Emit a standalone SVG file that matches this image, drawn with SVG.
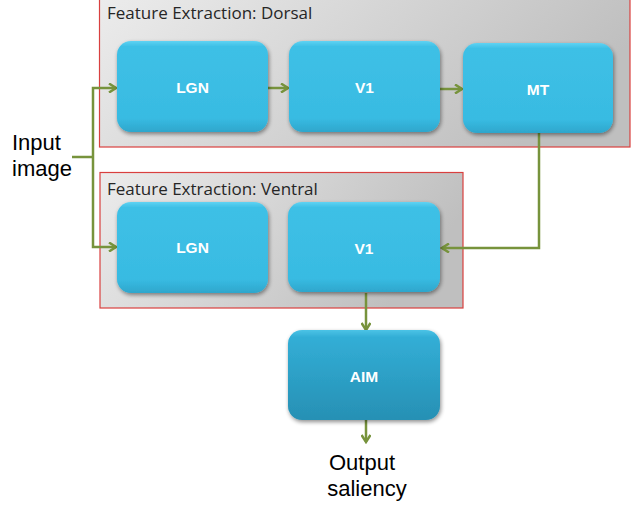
<svg xmlns="http://www.w3.org/2000/svg" width="641" height="505" viewBox="0 0 641 505">
<defs>
<linearGradient id="grp" x1="0" y1="0" x2="1" y2="0.3">
<stop offset="0" stop-color="#ececec"/><stop offset="1" stop-color="#bfbfbf"/>
</linearGradient>
<linearGradient id="blue" x1="0" y1="0" x2="0" y2="1">
<stop offset="0" stop-color="#5fd3f3"/><stop offset="0.06" stop-color="#3ec0e6"/><stop offset="0.85" stop-color="#38bbe2"/><stop offset="1" stop-color="#2ea6cc"/>
</linearGradient>
<linearGradient id="dark" x1="0" y1="0" x2="0" y2="1">
<stop offset="0" stop-color="#4cc3e6"/><stop offset="0.08" stop-color="#32aed6"/><stop offset="1" stop-color="#2790b4"/>
</linearGradient>
<filter id="sh" x="-10%" y="-10%" width="120%" height="130%">
<feGaussianBlur in="SourceAlpha" stdDeviation="2"/>
<feOffset dx="1" dy="2"/>
<feComponentTransfer><feFuncA type="linear" slope="0.45"/></feComponentTransfer>
<feMerge><feMergeNode/><feMergeNode in="SourceGraphic"/></feMerge>
</filter>
<marker id="ah" markerWidth="10" markerHeight="10" refX="8" refY="5" orient="auto" markerUnits="userSpaceOnUse">
<path d="M1,0.5 L8,5 L1,9.5" fill="none" stroke="#77933c" stroke-width="2.5"/>
</marker>
</defs>
<style>
.grp{fill:url(#grp);stroke:#d9403f;stroke-width:1.2}
.gt{font-family:"Open Sans","Liberation Sans",sans-serif;font-size:17px;fill:#262626}
.node rect{filter:url(#sh)}
.nb{fill:url(#blue)}
.nd{fill:url(#dark)}
.nt{font-family:"Liberation Sans",Arial,sans-serif;font-size:15.5px;font-weight:bold;fill:#ffffff;text-anchor:middle}
.lbl{font-family:"Liberation Sans",Arial,sans-serif;font-size:22px;fill:#000000}
.c{fill:none;stroke:#77933c;stroke-width:2.5}
.c.a{marker-end:url(#ah)}
</style>
<rect width="641" height="505" fill="#ffffff"/>
<g id="dorsal">
<rect class="grp" x="99.5" y="-1" width="530.5" height="148"/>
<text class="gt" x="107" y="19">Feature Extraction: Dorsal</text>
</g>
<g id="ventral">
<rect class="grp" x="100" y="172.5" width="363" height="135.5"/>
<text class="gt" x="107" y="195">Feature Extraction: Ventral</text>
</g>
<g id="connectors">
<path class="c" d="M72,157 H93"/>
<path class="c a" d="M93,157 V88 H116"/>
<path class="c a" d="M93,157 V247 H116"/>
<path class="c a" d="M268,88 H288"/>
<path class="c a" d="M440,89 H462"/>
<path class="c a" d="M539,133 V248 H442"/>
<path class="c a" d="M366,293 V330"/>
<path class="c a" d="M366,420 V442"/>
</g>
<g id="d-lgn" class="node"><rect class="nb" x="117" y="41" width="151" height="91" rx="14"/><text class="nt" x="192.5" y="93">LGN</text></g>
<g id="d-v1" class="node"><rect class="nb" x="289" y="41" width="151" height="91" rx="14"/><text class="nt" x="364.5" y="93">V1</text></g>
<g id="d-mt" class="node"><rect class="nb" x="463" y="43" width="150" height="90" rx="14"/><text class="nt" x="538" y="95">MT</text></g>
<g id="v-lgn" class="node"><rect class="nb" x="117" y="202" width="151" height="91" rx="14"/><text class="nt" x="192.5" y="253">LGN</text></g>
<g id="v-v1" class="node"><rect class="nb" x="288" y="202" width="152" height="90" rx="14"/><text class="nt" x="364" y="254">V1</text></g>
<g id="aim" class="node"><rect class="nd" x="288" y="330" width="152" height="90" rx="14"/><text class="nt" x="364" y="382">AIM</text></g>
<g id="input"><text class="lbl" x="12" y="150">Input</text><text class="lbl" x="12" y="176">image</text></g>
<g id="output"><text class="lbl" x="362" y="470" text-anchor="middle">Output</text><text class="lbl" x="367" y="496" text-anchor="middle">saliency</text></g>
</svg>
